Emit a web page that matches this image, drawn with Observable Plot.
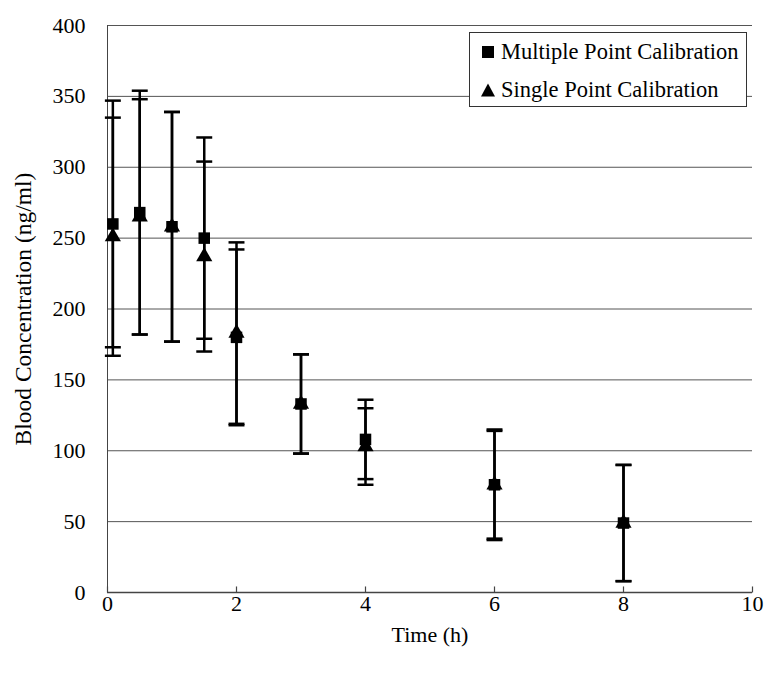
<!DOCTYPE html>
<html>
<head>
<meta charset="utf-8">
<script src="https://cdn.jsdelivr.net/npm/d3@7"></script>
<script src="https://cdn.jsdelivr.net/npm/@observablehq/plot@0.6"></script>
<style>
  body { margin: 0; background: #fff; }
  #chart { position: relative; width: 768px; height: 675px; font-family: "Liberation Serif", "Times New Roman", serif; }
  #chart svg { display: block; }
  .legend { position: absolute; left: 469px; top: 32px; width: 276px; height: 73px; border: 1px solid #333; background: #fff; font-size: 22.5px; color: #000; }
  .legend .row { position: absolute; left: 10px; display: flex; align-items: center; white-space: nowrap; }
  .legend svg { margin-right: 5px; }
</style>
</head>
<body>
<div id="chart"></div>
<script>
// Sampling times (h)
const times = [0.083, 0.5, 1, 1.5, 2, 3, 4, 6, 8];

// Multiple point calibration: mean and SD (ng/ml)
const multipleMean = [260, 268, 258, 250, 180, 133, 108, 76, 49];
const multipleSD   = [87, 86, 81, 71, 62, 35, 28, 39, 41];

// Single point calibration: mean and SD (ng/ml)
const singleMean = [251, 265, 258, 237, 183, 133, 103, 76, 49];
const singleSD   = [84, 83, 81, 67, 64, 35, 27, 38, 41];

const xTicks = [0, 2, 4, 6, 8, 10];
const yTicks = [0, 50, 100, 150, 200, 250, 300, 350, 400];

const seriesNames = ["Multiple Point Calibration", "Single Point Calibration"];

const rows = (means, sds, name) =>
  times.map((t, i) => ({time: t, mean: means[i], lo: means[i] - sds[i], hi: means[i] + sds[i], series: name}));

const multiple = rows(multipleMean, multipleSD, seriesNames[0]);
const single = rows(singleMean, singleSD, seriesNames[1]);
const all = [...single, ...multiple];

// Horizontal cap for the error bars
const capSymbol = {
  draw(ctx, size) {
    const w = Math.sqrt(size) / 2;
    ctx.moveTo(-w, 0);
    ctx.lineTo(w, 0);
  }
};

// Short upward tick sitting on the x axis
const upTickSymbol = {
  draw(ctx, size) {
    ctx.moveTo(0, 0);
    ctx.lineTo(0, -Math.sqrt(size));
  }
};

const chart = Plot.plot({
  width: 768,
  height: 675,
  marginLeft: 107,
  marginRight: 16,
  marginTop: 25,
  marginBottom: 83,
  style: {fontFamily: "'Liberation Serif', 'Times New Roman', serif", fontSize: "22px", color: "#000", background: "#fff"},
  x: {domain: [0, 10]},
  y: {domain: [0, 400]},
  marks: [
    Plot.gridY(yTicks, {stroke: "#555", strokeOpacity: 1}),
    Plot.ruleX([0], {stroke: "#444"}),
    Plot.ruleY([0], {stroke: "#444", strokeWidth: 1.5}),
    Plot.axisY({ticks: yTicks, tickSize: 0, tickPadding: 22, tickFormat: d => String(d),
      label: null}),
    Plot.axisY({ticks: [], label: "Blood Concentration (ng/ml)", labelAnchor: "center", labelArrow: "none",
      labelOffset: 93, fontSize: 23.5}),
    Plot.dot(xTicks, {x: d => d, frameAnchor: "bottom", symbol: upTickSymbol, r: 3.4, stroke: "#444", strokeWidth: 1.2, fill: "none"}),
    Plot.axisX({ticks: xTicks, tickSize: 0, tickPadding: 3, tickFormat: d => String(d),
      label: "Time (h)", labelAnchor: "center", labelArrow: "none", labelOffset: 49}),
    // error bars
    Plot.ruleX(all, {x: "time", y1: "lo", y2: "hi", stroke: "#000", strokeWidth: 2.5}),
    Plot.dot(all, {x: "time", y: "lo", symbol: capSymbol, r: 9, stroke: "#000", strokeWidth: 2.5, fill: "none"}),
    Plot.dot(all, {x: "time", y: "hi", symbol: capSymbol, r: 9, stroke: "#000", strokeWidth: 2.5, fill: "none"}),
    // means
    Plot.dot(single, {x: "time", y: "mean", symbol: "triangle", r: 6, fill: "#000", stroke: "none"}),
    Plot.dot(multiple, {x: "time", y: "mean", symbol: "square", r: 6.5, fill: "#000", stroke: "none"})
  ]
});

const root = document.getElementById("chart");
root.appendChild(chart);

// Legend box inside the plot area
const legend = document.createElement("div");
legend.className = "legend";
const markerSvg = (kind) => {
  const path = kind === "square" ? "M2,2H14V14H2Z" : "M8,1.5L15,14.5H1Z";
  return `<svg width="16" height="16" viewBox="0 0 16 16"><path d="${path}" fill="#000"/></svg>`;
};
legend.innerHTML =
  `<div class="row" style="top:6px">${markerSvg("square")}<span>${seriesNames[0]}</span></div>` +
  `<div class="row" style="top:44px">${markerSvg("triangle")}<span>${seriesNames[1]}</span></div>`;
root.appendChild(legend);
</script>
</body>
</html>
